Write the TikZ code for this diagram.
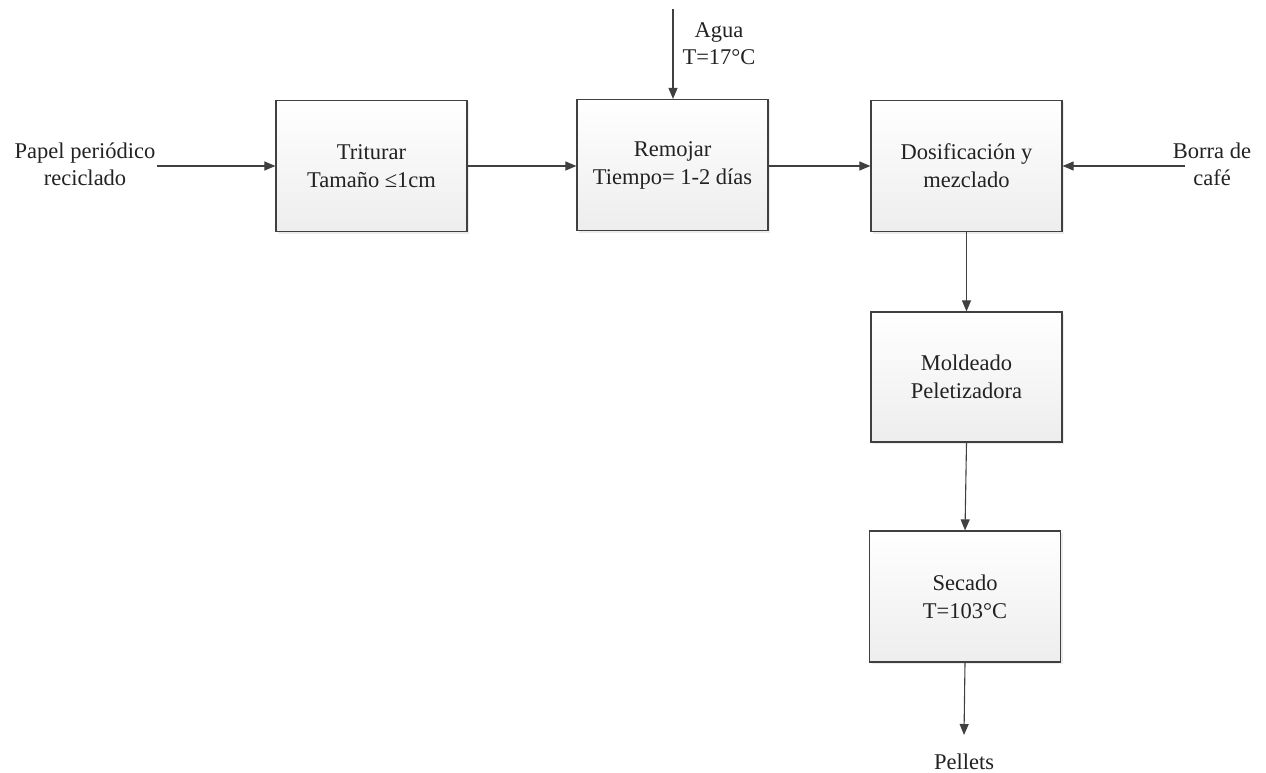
\documentclass[tikz,border=0pt]{standalone}
\usepackage{fontspec}
\setmainfont{Liberation Serif}
\usetikzlibrary{arrows.meta,shadows}
\definecolor{linec}{HTML}{404040}
\definecolor{txt}{HTML}{222222}
\tikzset{
  proc/.style={draw=linec, line width=1.2pt, top color=white, bottom color=black!7,
    minimum width=191pt, minimum height=131pt, align=center, inner sep=0pt,
    font=\fontsize{22.5}{28}\selectfont, text=txt,
    drop shadow={shadow xshift=2pt, shadow yshift=-2pt, fill=black!12, opacity=0.6}},
  lbl/.style={align=center, font=\fontsize{22.5}{27}\selectfont, text=txt, inner sep=0pt},
  flow/.style={draw=linec, line width=1.1pt, -{Triangle[length=11pt,width=9pt]}}
}
\begin{document}
\begin{tikzpicture}[x=1pt,y=-1pt]
\useasboundingbox (0,0) rectangle (1266,773);
\node[proc] (tri) at (371.5,166) {Triturar\\Tamaño ≤1cm};
\node[proc] (rem) at (672.5,165) {Remojar\\Tiempo= 1-2 días};
\node[proc] (dos) at (966.5,166) {Dosificación y\\mezclado};
\node[proc, minimum height=130pt] (mol) at (966.5,377) {Moldeado\\Peletizadora};
\node[proc] (sec) at (965,596.5) {Secado\\T=103°C};
\node[lbl] (pap) at (85,164) {Papel periódico\\reciclado};
\node[lbl] (bor) at (1212,164) {Borra de\\café};
\node[lbl] (agu) at (719,44) {Agua\\T=17°C};
\node[lbl] (pel) at (964,762) {Pellets};
\coordinate (papE) at (157,166);
\coordinate (borE) at (1185,166);
\coordinate (aguS) at (673,9);
\coordinate (pelN) at (964,735);
\draw[flow] (papE) -- (tri.west |- papE);
\draw[flow] (tri.east |- papE) -- (rem.west |- papE);
\draw[flow] (rem.east |- papE) -- (dos.west |- papE);
\draw[flow] (borE) -- (dos.east |- borE);
\draw[flow] (aguS) -- (aguS |- rem.north);
\draw[flow] (dos.south) -- (mol.north);
\draw[flow] (mol.south) -- (sec.north);
\draw[flow] (sec.south) -- (pelN);
\end{tikzpicture}
\end{document}
